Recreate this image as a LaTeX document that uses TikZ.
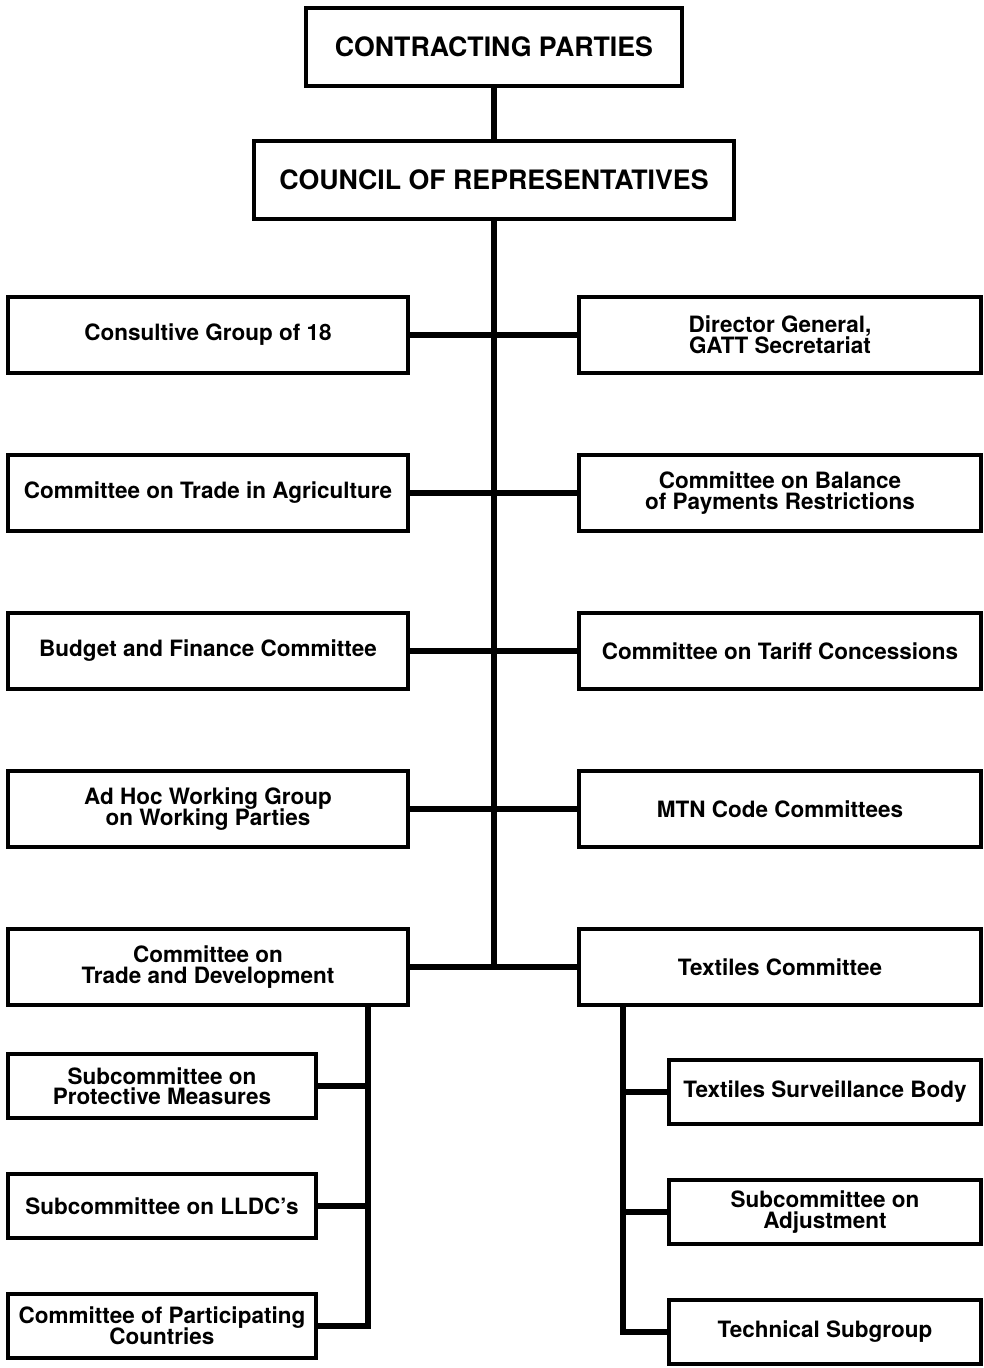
\documentclass[tikz,border=0pt]{standalone}
\usepackage{fontspec}
\setmainfont{TeX Gyre Heros}
\usetikzlibrary{positioning}
\newcommand\tightlead{\lineskiplimit=-8pt\relax}
\tikzset{
	headbox/.style={rectangle, draw, line width=2.8pt, minimum height=1.95cm,
		font=\fontsize{19}{21}\selectfont\bfseries},
	unitbox/.style={rectangle, draw, line width=2.8pt, minimum width=10cm,
		minimum height=1.9cm, align=center, inner sep=2pt,
		font={\fontsize{16}{14.6}\selectfont\bfseries\tightlead}},
	subbox/.style={unitbox, minimum width=7.7cm, minimum height=1.6cm},
	link/.style={line width=3.8pt}
}

\begin{document}
\begin{tikzpicture}[x=0.025cm, y=-0.025cm]
	\useasboundingbox (0,0) rectangle (984,1368);

	\node[headbox, minimum width=9.4cm] (cp) at (494,47) {CONTRACTING PARTIES};
	\node[headbox, minimum width=12cm] (cr) at (494,180) {COUNCIL OF REPRESENTATIVES};

	% left column
	\node[unitbox] (cg) at (208,335) {Consultive Group of 18};
	\node[unitbox, below=1.95cm of cg] (ta) {Committee on Trade in Agriculture};
	\node[unitbox, below=1.95cm of ta] (bf) {Budget and Finance Committee};
	\node[unitbox, below=1.95cm of bf] (ah) {Ad Hoc Working Group\\on Working Parties};
	\node[unitbox, below=1.95cm of ah] (td) {Committee on\\Trade and Development};

	% right column
	\node[unitbox, minimum width=10.05cm] (dg) at (780,335) {Director General,\\GATT Secretariat};
	\node[unitbox, minimum width=10.05cm, below=1.95cm of dg] (bp) {Committee on Balance\\of Payments Restrictions};
	\node[unitbox, minimum width=10.05cm, below=1.95cm of bp] (tc) {Committee on Tariff Concessions};
	\node[unitbox, minimum width=10.05cm, below=1.95cm of tc] (mtn) {MTN Code Committees};
	\node[unitbox, minimum width=10.05cm, below=1.95cm of mtn] (tx) {Textiles Committee};

	% subsidiary bodies
	\node[subbox] (pm) at (162,1086) {Subcommittee on\\Protective Measures};
	\node[subbox, below=1.3cm of pm] (ll) {Subcommittee on LLDC's};
	\node[subbox, below=1.3cm of ll] (pc) {Committee of Participating\\Countries};

	\node[subbox, minimum width=7.8cm] (ts) at (825,1092) {Textiles Surveillance Body};
	\node[subbox, minimum width=7.8cm, below=1.3cm of ts] (sa) {Subcommittee on\\Adjustment};
	\node[subbox, minimum width=7.8cm, below=1.3cm of sa] (tg) {Technical Subgroup};

	\coordinate (base) at (494,967);
	\coordinate (lspine) at (368,0);
	\coordinate (rspine) at (623,0);

	\draw[link] (cp) -- (cr);
	\draw[link] (cr) -- (base);
	\draw[link] (cg) -- (dg);
	\draw[link] (ta) -- (bp);
	\draw[link] (bf) -- (tc);
	\draw[link] (ah) -- (mtn);
	\draw[link] (td) -- (tx);

	\draw[link] (td.south -| lspine) |- (pc.east);
	\draw[link] (pm.east) -- (pm.east -| lspine);
	\draw[link] (ll.east) -- (ll.east -| lspine);

	\draw[link] (tx.south -| rspine) |- (tg.west);
	\draw[link] (ts.west) -- (ts.west -| rspine);
	\draw[link] (sa.west) -- (sa.west -| rspine);
\end{tikzpicture}
\end{document}
